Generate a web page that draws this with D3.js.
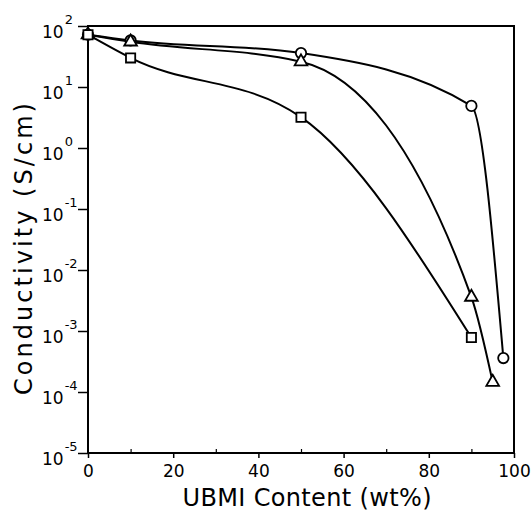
<!DOCTYPE html>
<html><head><meta charset="utf-8">
<script src="https://cdn.jsdelivr.net/npm/d3@7"></script>
<style>body{margin:0;background:#fff}svg{display:block}</style>
</head><body>
<script>
// Data
const circleX = [0, 10, 50, 90, 97.5];
const circleY = [72, 58, 36, 4.9, 3.6e-4];
const triangleX = [0, 10, 50, 90, 95];
const triangleY = [72, 55, 26, 3.6e-3, 1.45e-4];
const squareX = [0, 10, 50, 90];
const squareY = [72, 30, 3.2, 7.8e-4];
const xTicks = [0, 20, 40, 60, 80, 100];
const xMinorTicks = [10, 30, 50, 70, 90];
const yExponents = [2, 1, 0, -1, -2, -3, -4, -5];

const W = 531, H = 512;
const m = {l: 88, r: 17, t: 26, b: 59};
const svg = d3.select("body").append("svg").attr("width", W).attr("height", H);
const x = d3.scaleLinear().domain([0, 100]).range([m.l, W - m.r]);
const y = d3.scaleLog().domain([1e-5, 1e2]).range([H - m.b, m.t]);
const font = "DejaVu Sans, sans-serif";

// frame
svg.append("rect").attr("x", m.l).attr("y", m.t).attr("width", x(100) - x(0)).attr("height", y(1e-5) - y(1e2))
  .attr("fill", "none").attr("stroke", "#000").attr("stroke-width", 2);

// x axis
const gx = svg.append("g").attr("transform", `translate(0,${y(1e-5)})`)
  .call(d3.axisBottom(x).tickValues(xTicks).tickSize(5).tickFormat(d3.format("d")));
gx.select(".domain").remove();
gx.selectAll("line").attr("stroke-width", 1.5);
gx.selectAll("text").attr("font-family", font).attr("font-size", 17).attr("dy", "0.95em");
const gxm = svg.append("g").attr("transform", `translate(0,${y(1e-5)})`)
  .call(d3.axisBottom(x).tickValues(xMinorTicks).tickSize(-4).tickFormat(""));
gxm.select(".domain").remove();
gxm.selectAll("line").attr("stroke-width", 1.2);

// y axis
const yTickVals = yExponents.map(e => Math.pow(10, e));
const gy = svg.append("g").attr("transform", `translate(${m.l},0)`)
  .call(d3.axisLeft(y).tickValues(yTickVals).tickSize(10).tickFormat(""));
gy.select(".domain").remove();
gy.selectAll("line").attr("stroke-width", 1.5);
yExponents.forEach(e => {
  const yy = y(Math.pow(10, e));
  const t = svg.append("text").attr("font-family", font).attr("font-size", 17)
    .attr("x", 42).attr("y", yy + 12);
  t.append("tspan").text("10");
  t.append("tspan").attr("font-size", 13).attr("dy", -14).attr("dx", 1).text(e < 0 ? "-" + (-e) : String(e));
});

// axis titles
svg.append("text").attr("font-family", font).attr("font-size", 24)
  .attr("transform", `translate(32,249) rotate(-90)`)
  .attr("text-anchor", "middle").attr("textLength", 292).attr("lengthAdjust", "spacing").text("Conductivity (S/cm)");
svg.append("text").attr("font-family", font).attr("font-size", 24)
  .attr("x", 307).attr("y", 506).attr("text-anchor", "middle")
  .attr("textLength", 249).attr("lengthAdjust", "spacing").text("UBMI Content (wt%)");

// curves
const series = [
  {xs: circleX, ys: circleY, shape: "circle"},
  {xs: triangleX, ys: triangleY, shape: "triangle"},
  {xs: squareX, ys: squareY, shape: "square"}
];
const line = d3.line().x(d => x(d[0])).y(d => y(d[1])).curve(d3.curveMonotoneX);
series.forEach(s => {
  const pts = s.xs.map((v, i) => [v, s.ys[i]]);
  svg.append("path").datum(pts).attr("d", line).attr("fill", "none").attr("stroke", "#000").attr("stroke-width", 2);
});
series.forEach(s => {
  const pts = s.xs.map((v, i) => [v, s.ys[i]]);
  const sym = s.shape === "circle" ? d3.symbolCircle : s.shape === "triangle" ? d3.symbolTriangle : d3.symbolSquare;
  const size = s.shape === "circle" ? 85 : s.shape === "triangle" ? 70 : 85;
  svg.append("g").selectAll("path").data(pts).join("path")
    .attr("transform", d => `translate(${x(d[0])},${y(d[1])})`)
    .attr("d", d3.symbol().type(sym).size(size))
    .attr("fill", "#fff").attr("stroke", "#000").attr("stroke-width", 1.8);
});
</script>
</body></html>
